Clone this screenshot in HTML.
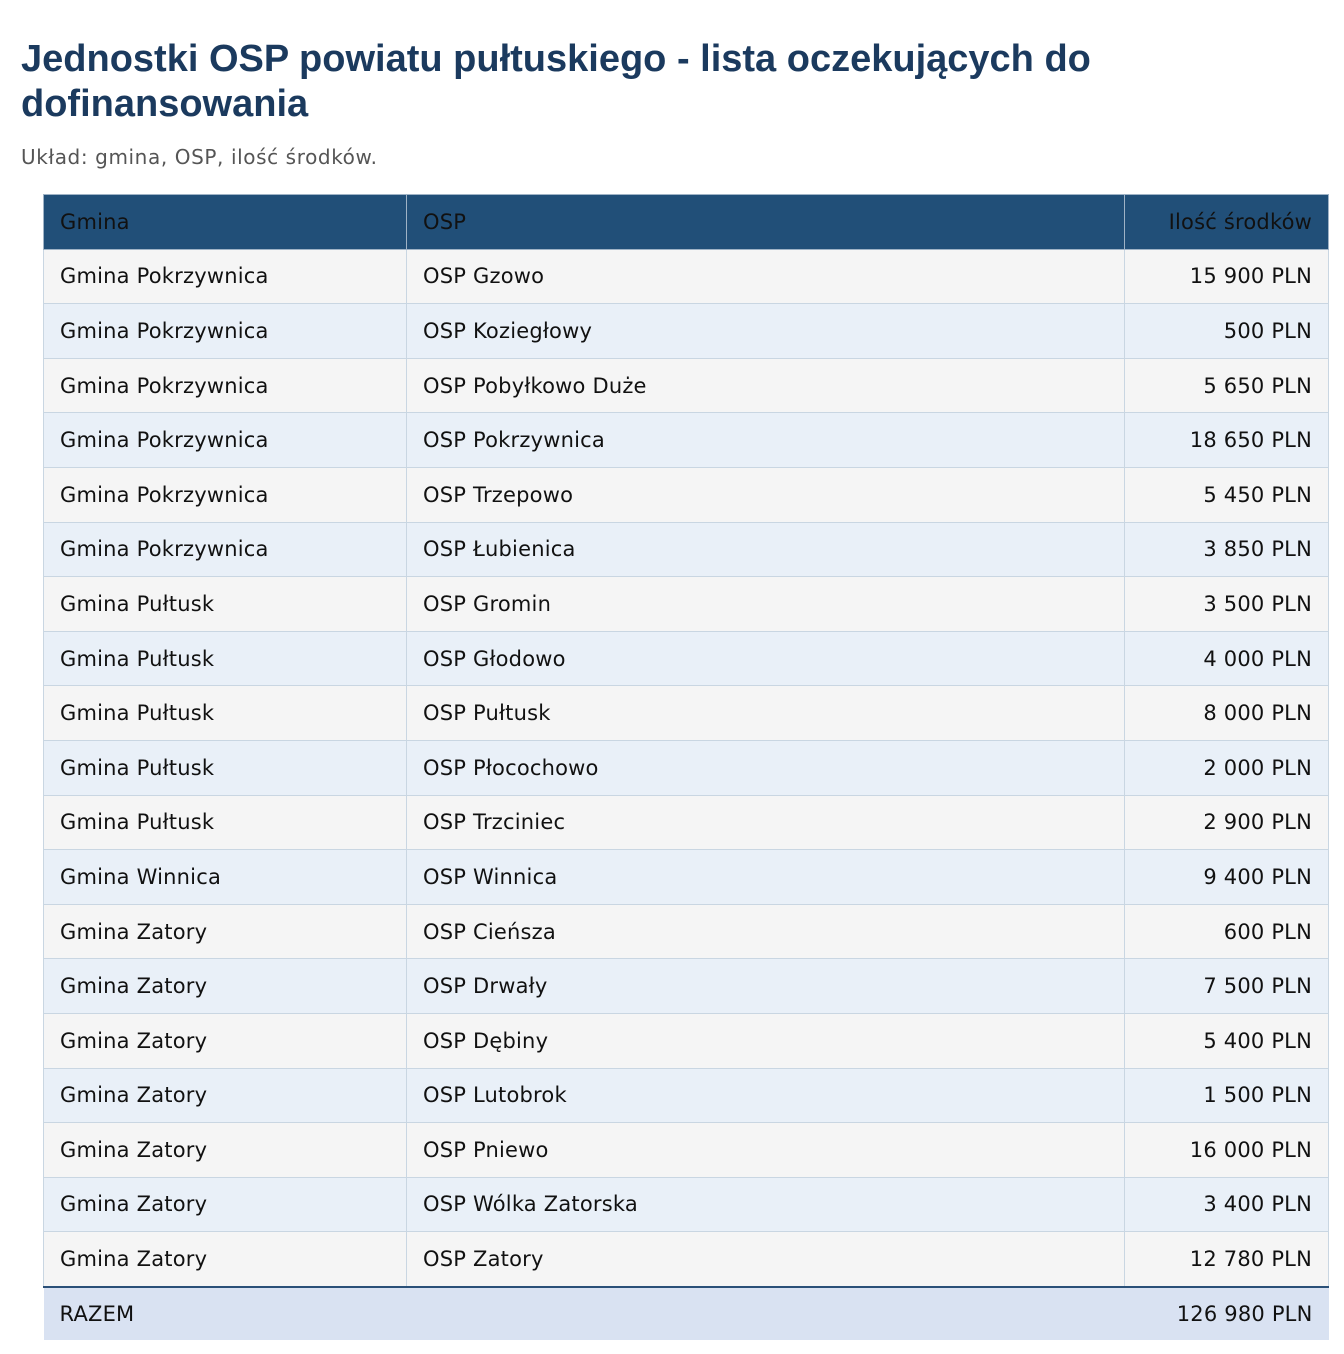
<!DOCTYPE html>
<html><head><meta charset="utf-8"><style>
body{margin:0;background:#fff;width:1344px;height:1354px;font-family:"DejaVu Sans","Liberation Sans",sans-serif;position:relative}
h1{position:absolute;left:21px;top:37px;margin:0;font-family:"Liberation Sans",sans-serif;font-size:38px;line-height:45px;font-weight:bold;color:#1b3a5e;width:1300px}
.sub{position:absolute;left:21px;top:145px;font-size:20px;letter-spacing:0.6px;color:#555}
table{position:absolute;left:43px;top:194px;width:1285px;border-collapse:collapse;table-layout:fixed;font-size:21px;letter-spacing:0.2px;color:#111}
td,th{height:53.6px;padding:0 16px;border:1px solid #c9d6e2;font-weight:normal;text-align:left;white-space:nowrap}
th{background:#214f78;color:#111;border-color:#9fb3c6}
td:nth-child(3),th:nth-child(3){text-align:right}
tr:nth-child(odd) td{background:#f5f5f5}
tr:nth-child(even) td{background:#e9f0f8}
tr.tot td{background:#d9e2f2;border:none;border-top:2px solid #2a5078;height:52.6px}
</style></head><body>
<h1>Jednostki OSP powiatu pułtuskiego - lista oczekujących do dofinansowania</h1>
<div class="sub">Układ: gmina, OSP, ilość środków.</div>
<table>
<colgroup><col style="width:363px"><col style="width:718px"><col style="width:204px"></colgroup>
<thead><tr><th>Gmina</th><th>OSP</th><th>Ilość środków</th></tr></thead>
<tbody>
<tr><td>Gmina Pokrzywnica</td><td>OSP Gzowo</td><td>15 900 PLN</td></tr>
<tr><td>Gmina Pokrzywnica</td><td>OSP Koziegłowy</td><td>500 PLN</td></tr>
<tr><td>Gmina Pokrzywnica</td><td>OSP Pobyłkowo Duże</td><td>5 650 PLN</td></tr>
<tr><td>Gmina Pokrzywnica</td><td>OSP Pokrzywnica</td><td>18 650 PLN</td></tr>
<tr><td>Gmina Pokrzywnica</td><td>OSP Trzepowo</td><td>5 450 PLN</td></tr>
<tr><td>Gmina Pokrzywnica</td><td>OSP Łubienica</td><td>3 850 PLN</td></tr>
<tr><td>Gmina Pułtusk</td><td>OSP Gromin</td><td>3 500 PLN</td></tr>
<tr><td>Gmina Pułtusk</td><td>OSP Głodowo</td><td>4 000 PLN</td></tr>
<tr><td>Gmina Pułtusk</td><td>OSP Pułtusk</td><td>8 000 PLN</td></tr>
<tr><td>Gmina Pułtusk</td><td>OSP Płocochowo</td><td>2 000 PLN</td></tr>
<tr><td>Gmina Pułtusk</td><td>OSP Trzciniec</td><td>2 900 PLN</td></tr>
<tr><td>Gmina Winnica</td><td>OSP Winnica</td><td>9 400 PLN</td></tr>
<tr><td>Gmina Zatory</td><td>OSP Cieńsza</td><td>600 PLN</td></tr>
<tr><td>Gmina Zatory</td><td>OSP Drwały</td><td>7 500 PLN</td></tr>
<tr><td>Gmina Zatory</td><td>OSP Dębiny</td><td>5 400 PLN</td></tr>
<tr><td>Gmina Zatory</td><td>OSP Lutobrok</td><td>1 500 PLN</td></tr>
<tr><td>Gmina Zatory</td><td>OSP Pniewo</td><td>16 000 PLN</td></tr>
<tr><td>Gmina Zatory</td><td>OSP Wólka Zatorska</td><td>3 400 PLN</td></tr>
<tr><td>Gmina Zatory</td><td>OSP Zatory</td><td>12 780 PLN</td></tr>
<tr class="tot"><td>RAZEM</td><td></td><td>126 980 PLN</td></tr>
</tbody></table>
</body></html>
